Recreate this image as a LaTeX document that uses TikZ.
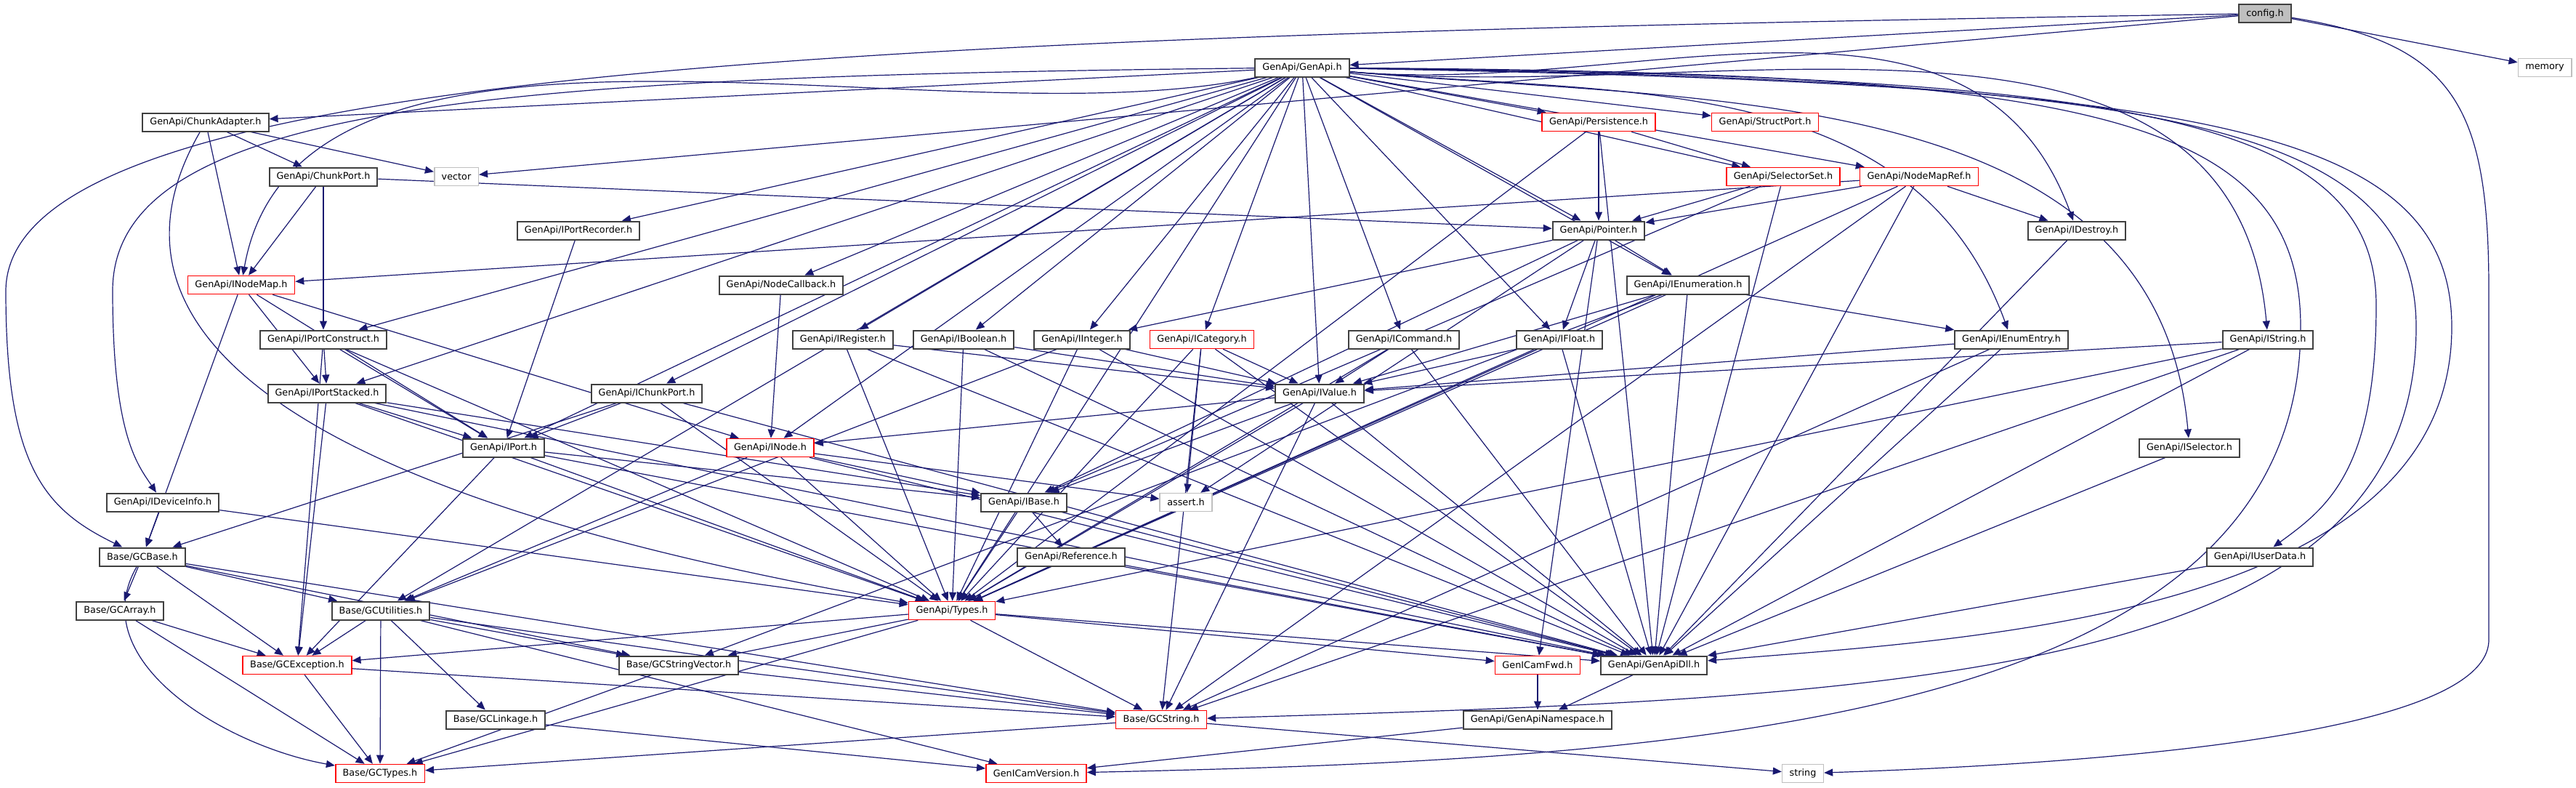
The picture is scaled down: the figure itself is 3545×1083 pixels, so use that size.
\documentclass[tikz,border=0pt]{standalone}
\usepackage{fontspec}
\setmainfont{DejaVu Sans}
\usetikzlibrary{arrows.meta,backgrounds}
\definecolor{incblue}{HTML}{191970}
\definecolor{hdrgray}{HTML}{BFBFBF}
\definecolor{hdrframe}{HTML}{404040}

\begin{document}
\begin{tikzpicture}[x=0.5pt,y=-0.5pt,
  hdr/.style={draw=hdrframe,fill=white,line width=1pt,inner xsep=5pt,inner ysep=0pt,minimum height=12.5pt,font=\fontsize{6.4}{7.5}\selectfont},
  hdrred/.style={hdr,draw=red,line width=0.8pt},
  hdrsys/.style={hdr,draw=hdrgray,line width=0.8pt},
  hdrtop/.style={hdr,fill=hdrgray},
  inc/.style={draw=incblue,line width=0.6pt,-{Triangle[length=6pt,width=5pt]}}]
\useasboundingbox (0,0) rectangle (3545,1083);
\node[hdrtop] (config) at (3117,18.5) {config.h};
\node[hdr] (genapi) at (1792,93) {GenApi/GenApi.h};
\node[hdrsys] (memory) at (3502,93) {memory};
\node[hdr] (chunkadapter) at (283,168) {GenApi/ChunkAdapter.h};
\node[hdrred] (persistence) at (2200,168) {GenApi/Persistence.h};
\node[hdrred] (structport) at (2429,168) {GenApi/StructPort.h};
\node[hdr] (chunkport) at (445,243) {GenApi/ChunkPort.h};
\node[hdrsys] (vector) at (628,243) {vector};
\node[hdrred] (selectorset) at (2454,243) {GenApi/SelectorSet.h};
\node[hdrred] (nodemapref) at (2641,243) {GenApi/NodeMapRef.h};
\node[hdr] (iportrecorder) at (796,317) {GenApi/IPortRecorder.h};
\node[hdr] (pointer) at (2200,317) {GenApi/Pointer.h};
\node[hdr] (idestroy) at (2858,317) {GenApi/IDestroy.h};
\node[hdrred] (inodemap) at (332,392) {GenApi/INodeMap.h};
\node[hdr] (nodecallback) at (1075,392) {GenApi/NodeCallback.h};
\node[hdr] (ienumeration) at (2323,392) {GenApi/IEnumeration.h};
\node[hdr] (iportconstruct) at (445,467) {GenApi/IPortConstruct.h};
\node[hdr] (iregister) at (1160,467) {GenApi/IRegister.h};
\node[hdr] (iboolean) at (1326,467) {GenApi/IBoolean.h};
\node[hdr] (iinteger) at (1489,467) {GenApi/IInteger.h};
\node[hdrred] (icategory) at (1654,467) {GenApi/ICategory.h};
\node[hdr] (icommand) at (1932,467) {GenApi/ICommand.h};
\node[hdr] (ifloat) at (2146,467) {GenApi/IFloat.h};
\node[hdr] (ienumentry) at (2768,467) {GenApi/IEnumEntry.h};
\node[hdr] (istring) at (3121,467) {GenApi/IString.h};
\node[hdr] (iportstacked) at (450,541) {GenApi/IPortStacked.h};
\node[hdr] (ichunkport) at (890,541) {GenApi/IChunkPort.h};
\node[hdr] (ivalue) at (1816,541) {GenApi/IValue.h};
\node[hdr] (iport) at (693,616) {GenApi/IPort.h};
\node[hdrred] (inode) at (1060,616) {GenApi/INode.h};
\node[hdr] (iselector) at (3013,616) {GenApi/ISelector.h};
\node[hdr] (ideviceinfo) at (224,691) {GenApi/IDeviceInfo.h};
\node[hdr] (ibase) at (1409,691) {GenApi/IBase.h};
\node[hdrsys] (asserth) at (1632,691) {assert.h};
\node[hdr] (gcbase) at (196,766) {Base/GCBase.h};
\node[hdr] (reference) at (1474,766) {GenApi/Reference.h};
\node[hdr] (iuserdata) at (3110,766) {GenApi/IUserData.h};
\node[hdr] (gcarray) at (165,840) {Base/GCArray.h};
\node[hdr] (gcutilities) at (524,840) {Base/GCUtilities.h};
\node[hdrred] (types) at (1310,840) {GenApi/Types.h};
\node[hdrred] (gcexception) at (409,915) {Base/GCException.h};
\node[hdr] (gcstringvector) at (934,915) {Base/GCStringVector.h};
\node[hdrred] (genicamfwd) at (2116,915) {GenICamFwd.h};
\node[hdr] (genapidll) at (2276,915) {GenApi/GenApiDll.h};
\node[hdr] (gclinkage) at (682,990) {Base/GCLinkage.h};
\node[hdrred] (gcstring) at (1598,990) {Base/GCString.h};
\node[hdr] (genapinamespace) at (2116,990) {GenApi/GenApiNamespace.h};
\node[hdrred] (gctypes) at (523,1064) {Base/GCTypes.h};
\node[hdrred] (genicamversion) at (1426,1064) {GenICamVersion.h};
\node[hdrsys] (string) at (2481,1064) {string};
\begin{scope}[on background layer]
\path (config) edge[inc] (genapi) edge[inc] (memory) edge[inc] (vector);
\draw[inc] (config) .. controls (1200,50) and (10,90) .. (8,400) .. controls (8,640) and (60,700) .. (gcbase);
\draw[inc] (config) .. controls (3380,60) and (3425,150) .. (3425,400) -- (3425,880) .. controls (3425,1010) and (2900,1050) .. (string);
\path (genapi) edge[inc] (chunkadapter) edge[inc] (persistence) edge[inc] (structport)
  edge[inc] (selectorset) edge[inc] (nodemapref) edge[inc] (pointer) edge[inc,out=-5,in=110] (idestroy)
  edge[inc] (iportrecorder) edge[inc,out=192,in=80,looseness=0.8] (inodemap) edge[inc] (nodecallback) edge[inc] (ienumeration)
  edge[inc] (iportconstruct) edge[inc] (iregister) edge[inc] (iboolean) edge[inc] (iinteger)
  edge[inc] (icategory) edge[inc] (icommand) edge[inc] (ifloat) edge[inc,out=-5,in=110] (ienumentry)
  edge[inc,out=-5,in=95] (istring) edge[inc] (iportstacked) edge[inc] (ichunkport) edge[inc] (ivalue)
  edge[inc] (iport) edge[inc] (inode) edge[inc,out=-5,in=95] (iselector) edge[inc] (gcutilities) edge[inc] (types);
\draw[inc] (genapi) .. controls (700,105) and (155,140) .. (155,400) .. controls (155,600) and (190,640) .. (ideviceinfo);
\draw[inc] (genapi) .. controls (2900,105) and (3270,150) .. (3270,420) .. controls (3270,650) and (3200,700) .. (iuserdata);
\draw[inc] (genapi) .. controls (2950,110) and (3325,160) .. (3325,450) .. controls (3325,940) and (2600,960) .. (gcstring);
\draw[inc] (genapi) .. controls (3000,115) and (3374,165) .. (3374,450) .. controls (3374,850) and (2700,880) .. (genapidll);
\draw[inc] (genapi) .. controls (2850,100) and (3166,150) .. (3166,450) .. controls (3166,1000) and (2300,1045) .. (genicamversion);
\path (chunkadapter) edge[inc] (inodemap) edge[inc] (chunkport) edge[inc] (vector) edge[inc,out=240,in=170] (types);
\path (chunkport) edge[inc] (inodemap) edge[inc] (iportconstruct) edge[inc] (pointer);
\path (persistence) edge[inc] (pointer) edge[inc] (selectorset) edge[inc] (types) edge[inc] (genapidll);
\path (selectorset) edge[inc] (pointer) edge[inc] (ibase) edge[inc] (genapidll);
\path (nodemapref) edge[inc] (inodemap) edge[inc] (pointer) edge[inc] (idestroy) edge[inc] (types) edge[inc] (gcstring) edge[inc] (genapidll);
\path (iportrecorder) edge[inc] (iport);
\path (pointer) edge[inc] (ienumeration) edge[inc] (iinteger) edge[inc] (ifloat) edge[inc] (ibase) edge[inc] (asserth) edge[inc] (genicamfwd);
\path (idestroy) edge[inc] (genapidll);
\path (inodemap) edge[inc] (gcbase) edge[inc] (iportstacked) edge[inc] (iport) edge[inc] (inode);
\path (nodecallback) edge[inc] (inode);
\path (ienumeration) edge[inc] (ivalue) edge[inc] (ienumentry) edge[inc] (types) edge[inc] (gcstringvector) edge[inc] (genapidll);
\path (iportconstruct) edge[inc] (iportstacked) edge[inc] (iport) edge[inc] (types) edge[inc] (gcexception);
\path (iregister) edge[inc] (ivalue) edge[inc] (types) edge[inc] (genapidll);
\path (iboolean) edge[inc] (ivalue) edge[inc] (types) edge[inc] (genapidll);
\path (iinteger) edge[inc] (ivalue) edge[inc] (types) edge[inc] (genapidll) edge[inc] (gcutilities);
\path (icategory) edge[inc] (ivalue) edge[inc] (asserth) edge[inc] (types) edge[inc] (genapidll) edge[inc] (gcstring);
\path (icommand) edge[inc] (ivalue) edge[inc] (types) edge[inc] (genapidll);
\path (ifloat) edge[inc] (ivalue) edge[inc] (types) edge[inc] (genapidll);
\path (ienumentry) edge[inc] (ivalue) edge[inc] (genapidll) edge[inc] (gcstring);
\path (istring) edge[inc] (ivalue) edge[inc] (types) edge[inc] (genapidll) edge[inc] (gcstring);
\path (iportstacked) edge[inc] (iport) edge[inc] (ibase) edge[inc] (types) edge[inc] (gcexception) edge[inc] (genapidll);
\path (ichunkport) edge[inc] (iport) edge[inc] (gcbase) edge[inc] (types) edge[inc] (genapidll);
\path (ivalue) edge[inc] (inode) edge[inc] (ibase) edge[inc] (types) edge[inc] (genapidll) edge[inc] (gcstring);
\path (iport) edge[inc] (ibase) edge[inc] (gcexception) edge[inc] (types) edge[inc] (genapidll);
\path (inode) edge[inc] (ibase) edge[inc] (asserth) edge[inc] (gcutilities) edge[inc] (types) edge[inc] (genapidll);
\path (iselector) edge[inc] (genapidll);
\path (ideviceinfo) edge[inc] (gcbase) edge[inc] (types);
\path (ibase) edge[inc] (types) edge[inc] (reference) edge[inc] (genapidll);
\path (reference) edge[inc] (types) edge[inc] (genapidll);
\path (iuserdata) edge[inc] (genapidll);
\path (gcbase) edge[inc] (gcarray) edge[inc] (gcutilities) edge[inc] (gcexception) edge[inc] (gcstringvector) edge[inc] (gcstring) edge[inc,out=240,in=170] (gctypes);
\path (gcarray) edge[inc] (gcexception) edge[inc] (gctypes);
\path (gcutilities) edge[inc] (gcexception) edge[inc] (gctypes) edge[inc] (gclinkage) edge[inc] (gcstringvector) edge[inc] (gcstring) edge[inc] (genicamversion);
\path (types) edge[inc] (gctypes) edge[inc] (gcstringvector) edge[inc] (gcexception) edge[inc] (gcstring) edge[inc] (genicamfwd) edge[inc] (genapidll);
\path (gcexception) edge[inc] (gctypes) edge[inc] (gcstring);
\path (gcstringvector) edge[inc] (gctypes) edge[inc] (gcstring);
\path (gclinkage) edge[inc] (genicamversion);
\path (gcstring) edge[inc] (gctypes) edge[inc] (string);
\path (genicamfwd) edge[inc] (genapinamespace);
\path (genapidll) edge[inc] (genapinamespace);
\path (genapinamespace) edge[inc] (genicamversion);
\end{scope}
\end{tikzpicture}
\end{document}
